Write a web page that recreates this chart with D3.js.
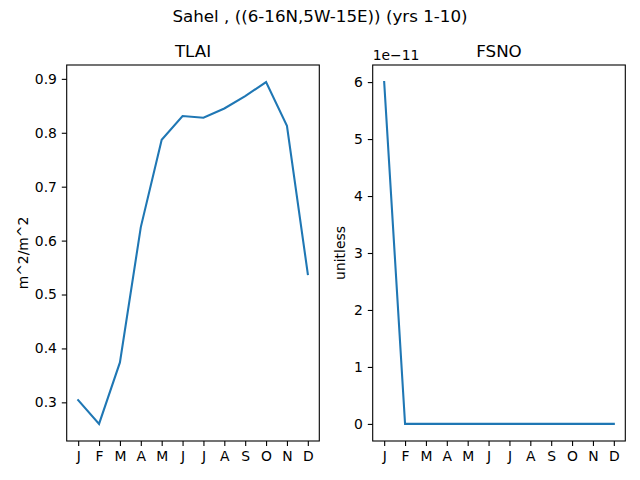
<!DOCTYPE html>
<html>
<head>
<meta charset="utf-8">
<script src="https://cdn.jsdelivr.net/npm/d3@7"></script>
<style>
  body { margin: 0; background: #fff; }
  text { font-family: "DejaVu Sans", sans-serif; fill: #000; }
</style>
</head>
<body>
<div id="container"></div>
<script>
let w = 640;
let h = 480;

// data
let months = ['J','F','M','A','M','J','J','A','S','O','N','D'];
let tlai = [0.304, 0.260, 0.374, 0.625, 0.787, 0.831, 0.828, 0.845, 0.868, 0.894, 0.813, 0.538];
let fsno = [6e-11, 0, 0, 0, 0, 0, 0, 0, 0, 0, 0, 0];
let tlaiTicks = [0.3, 0.4, 0.5, 0.6, 0.7, 0.8, 0.9];
let fsnoTicks = [0, 1, 2, 3, 4, 5, 6];

let viz = d3.select('#container').append('svg')
    .attr('width', w)
    .attr('height', h);

viz.append('text')
    .text('Sahel , ((6-16N,5W-15E)) (yrs 1-10)')
    .attr('x', 320)
    .attr('y', 22)
    .attr('text-anchor', 'middle')
    .attr('font-size', '16.7px');

function panel(opts) {
    let x0 = opts.left, x1 = opts.right, y0 = 65, y1 = 441;
    let x = d3.scaleLinear().domain([-0.55, 11.55]).range([x0, x1]);
    let lo = d3.min(opts.values), hi = d3.max(opts.values);
    let pad = (hi - lo) * 0.05;
    let y = d3.scaleLinear().domain([(lo - pad) / opts.scale, (hi + pad) / opts.scale]).range([y1, y0]);

    let g = viz.append('g');

    let xAxis = g.append('g')
        .attr('transform', `translate(0,${y1})`)
        .call(d3.axisBottom(x).tickValues(d3.range(12)).tickFormat(i => months[i])
            .tickSize(4.9).tickPadding(4.9));
    let yAxis = g.append('g')
        .attr('transform', `translate(${x0},0)`)
        .call(d3.axisLeft(y).tickValues(opts.ticks).tickFormat(opts.fmt)
            .tickSize(4.9).tickPadding(4.9));
    [xAxis, yAxis].forEach(a => {
        a.select('.domain').remove();
        a.selectAll('line').attr('stroke', '#000').attr('stroke-width', 1.1);
        a.selectAll('text').attr('font-size', '13.9px')
            .style('font-family', '"DejaVu Sans", sans-serif').attr('fill', '#000');
    });

    g.append('path')
        .datum(opts.values)
        .attr('fill', 'none')
        .attr('stroke', '#1f77b4')
        .attr('stroke-width', 2.08)
        .attr('stroke-linecap', 'square')
        .attr('d', d3.line().x((d, i) => x(i)).y(d => y(d / opts.scale)));

    g.append('rect')
        .attr('x', x0).attr('y', y0)
        .attr('width', x1 - x0).attr('height', y1 - y0)
        .attr('fill', 'none').attr('stroke', '#000').attr('stroke-width', 1.1);

    g.append('text')
        .text(opts.title)
        .attr('x', (x0 + x1) / 2)
        .attr('y', 57)
        .attr('text-anchor', 'middle')
        .attr('font-size', '16.7px');

    g.append('text')
        .text(opts.ylabel)
        .attr('transform', `translate(${opts.ylabelX},${(y0 + y1) / 2}) rotate(-90)`)
        .attr('text-anchor', 'middle')
        .attr('font-size', '13.9px');

    if (opts.offset) {
        g.append('text')
            .text(opts.offset)
            .attr('x', x0)
            .attr('y', 60)
            .attr('font-size', '13.9px');
    }
}

panel({left: 66.7, right: 319.3, values: tlai, scale: 1, ticks: tlaiTicks,
    fmt: d3.format('.1f'), title: 'TLAI', ylabel: 'm^2/m^2', ylabelX: 28});
panel({left: 372.7, right: 625.3, values: fsno, scale: 1e-11, ticks: fsnoTicks,
    fmt: d3.format('d'), title: 'FSNO', ylabel: 'unitless', ylabelX: 345, offset: '1e\u221211'});
</script>
</body>
</html>
